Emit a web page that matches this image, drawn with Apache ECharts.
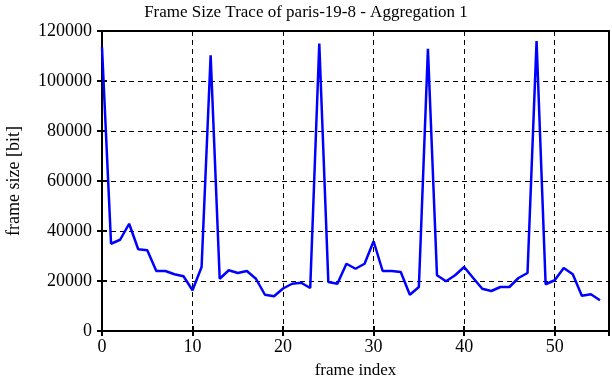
<!DOCTYPE html>
<html>
<head>
<meta charset="utf-8">
<script src="https://cdn.jsdelivr.net/npm/echarts@6/dist/echarts.min.js"></script>
<style>
  html, body { margin: 0; padding: 0; background: #fff; }
  #container { width: 612px; height: 382px; }
</style>
</head>
<body>
<div id="container"></div>
<script>
var dom = document.getElementById('container');
var myChart = echarts.init(dom, null, { renderer: 'canvas' });

// frame sizes in bit, one per frame index 0..55
var frameSizes = [
  113500, 34900, 36500, 42900, 32700, 32300, 24000, 24000, 22700, 21900,
  16300, 25600, 110300, 20900, 24300, 23200, 24000, 20900, 14500, 13900,
  17000, 18900, 19300, 17200, 115000, 19600, 18900, 26900, 24900, 26900,
  35900, 24000, 24000, 23600, 14500, 17600, 112900, 22300, 19900, 22300,
  25600, 21200, 16900, 16000, 17600, 17600, 21200, 23200, 116000, 18700,
  20300, 25200, 22700, 14100, 14700, 12300
];
var frameIndex = frameSizes.map(function (v, i) { return i; });

var font = '"Liberation Serif", "DejaVu Serif", serif';
var dashed = { show: true, lineStyle: { color: '#000', type: [5, 4], width: 1 } };
var plain = function (v) { return String(v); };

var option = {
  animation: false,
  backgroundColor: '#fff',
  title: {
    text: 'Frame Size Trace of paris-19-8 - Aggregation 1',
    left: 'center',
    top: -1,
    textStyle: { fontFamily: font, fontSize: 17, fontWeight: 'normal', color: '#000' }
  },
  grid: {
    left: 102, right: 3, top: 31, bottom: 51,
    outerBoundsMode: 'none', containLabel: false,
    show: true, borderColor: '#000', borderWidth: 2
  },
  xAxis: [
    {
      type: 'value', min: 0, max: 56, interval: 10,
      name: 'frame index', nameLocation: 'middle', nameGap: 31,
      nameTextStyle: { fontFamily: font, fontSize: 17, color: '#000' },
      axisLine: { show: true, lineStyle: { color: '#000', width: 2 } },
      axisTick: { show: true, inside: true, length: 5, lineStyle: { color: '#000', width: 2 } },
      axisLabel: { fontFamily: font, fontSize: 18, color: '#000', margin: 7, showMaxLabel: false, formatter: plain },
      splitLine: dashed
    },
    {
      type: 'value', min: 0, max: 56, interval: 10, position: 'top',
      axisLine: { show: true, lineStyle: { color: '#000', width: 2 } },
      axisTick: { show: true, inside: true, length: 5, lineStyle: { color: '#000', width: 2 } },
      axisLabel: { show: false },
      splitLine: { show: false }
    }
  ],
  yAxis: [
    {
      type: 'value', min: 0, max: 120000, interval: 20000,
      name: 'frame size [bit]', nameLocation: 'middle', nameGap: 79,
      nameTextStyle: { fontFamily: font, fontSize: 18, color: '#000' },
      axisLine: { show: true, lineStyle: { color: '#000', width: 2 } },
      axisTick: { show: true, inside: true, length: 5, lineStyle: { color: '#000', width: 2 } },
      axisLabel: { fontFamily: font, fontSize: 18, color: '#000', margin: 10, formatter: plain },
      splitLine: dashed
    },
    {
      type: 'value', min: 0, max: 120000, interval: 20000, position: 'right',
      axisLine: { show: true, lineStyle: { color: '#000', width: 2 } },
      axisTick: { show: true, inside: true, length: 5, lineStyle: { color: '#000', width: 2 } },
      axisLabel: { show: false },
      splitLine: { show: false }
    }
  ],
  series: [
    {
      type: 'line',
      data: frameIndex.map(function (x, i) { return [x, frameSizes[i]]; }),
      showSymbol: false,
      lineStyle: { color: '#0000ff', width: 2.5 },
      z: 5
    }
  ]
};

myChart.setOption(option);
window.addEventListener('resize', myChart.resize);
</script>
</body>
</html>
